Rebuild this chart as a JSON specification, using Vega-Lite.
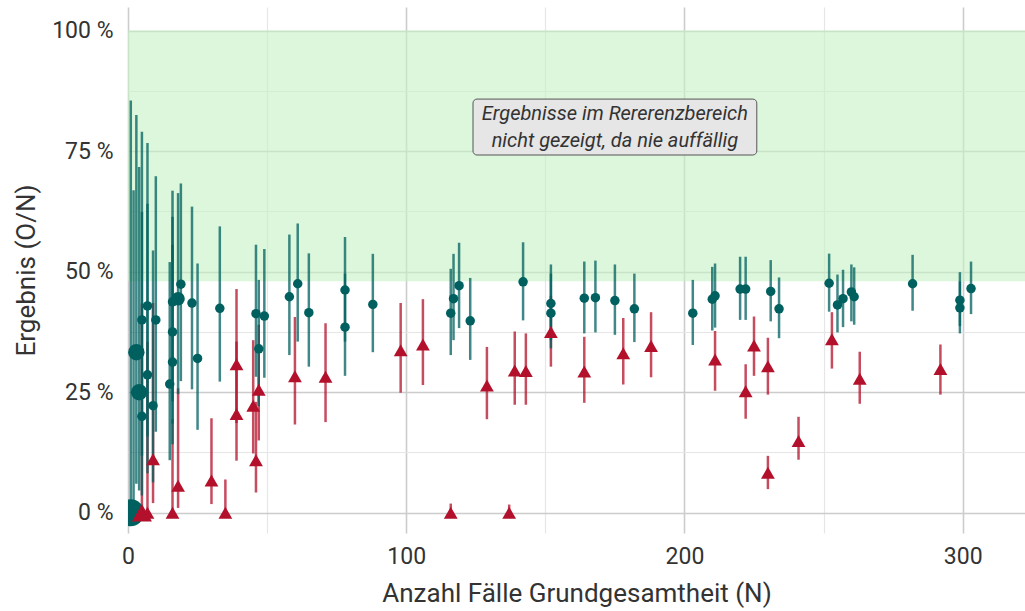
{
  "$schema": "https://vega.github.io/schema/vega-lite/v6.json",
  "width": 897,
  "height": 526,
  "autosize": {"type": "none"},
  "padding": {"left": 128, "top": 7, "right": 0, "bottom": 78},
  "config": {
    "view": {"stroke": null},
    "font": "Roboto",
    "axis": {"domain": false, "ticks": false, "labelColor": "#333333", "titleColor": "#333333", "titleFontWeight": "normal", "labelFlush": false}
  },
  "datasets": {
    "unauffaellig": [
      {"N": 1, "p": 0, "lo": 0, "hi": 0.855, "k": 8},
      {"N": 2, "p": 0, "lo": 0, "hi": 0.669, "k": 1},
      {"N": 3, "p": 0.333, "lo": 0.06, "hi": 0.825, "k": 3},
      {"N": 4, "p": 0.25, "lo": 0.046, "hi": 0.717, "k": 3},
      {"N": 5, "p": 0.4, "lo": 0.118, "hi": 0.79, "k": 1},
      {"N": 5, "p": 0.2, "lo": 0.036, "hi": 0.624, "k": 1},
      {"N": 7, "p": 0.429, "lo": 0.158, "hi": 0.767, "k": 1},
      {"N": 7, "p": 0.286, "lo": 0.082, "hi": 0.641, "k": 1},
      {"N": 9, "p": 0.222, "lo": 0.063, "hi": 0.544, "k": 1},
      {"N": 10, "p": 0.4, "lo": 0.168, "hi": 0.698, "k": 1},
      {"N": 15, "p": 0.267, "lo": 0.109, "hi": 0.52, "k": 1},
      {"N": 16, "p": 0.375, "lo": 0.185, "hi": 0.614, "k": 1},
      {"N": 16, "p": 0.3125, "lo": 0.142, "hi": 0.556, "k": 1},
      {"N": 16, "p": 0.4375, "lo": 0.231, "hi": 0.668, "k": 1},
      {"N": 18, "p": 0.444, "lo": 0.246, "hi": 0.663, "k": 2},
      {"N": 19, "p": 0.474, "lo": 0.273, "hi": 0.683, "k": 1},
      {"N": 23, "p": 0.435, "lo": 0.256, "hi": 0.635, "k": 1},
      {"N": 25, "p": 0.32, "lo": 0.172, "hi": 0.517, "k": 1},
      {"N": 33, "p": 0.424, "lo": 0.272, "hi": 0.594, "k": 1},
      {"N": 46, "p": 0.413, "lo": 0.282, "hi": 0.556, "k": 1},
      {"N": 47, "p": 0.34, "lo": 0.221, "hi": 0.483, "k": 1},
      {"N": 49, "p": 0.408, "lo": 0.28, "hi": 0.547, "k": 1},
      {"N": 58, "p": 0.448, "lo": 0.327, "hi": 0.577, "k": 1},
      {"N": 61, "p": 0.475, "lo": 0.355, "hi": 0.6, "k": 1},
      {"N": 65, "p": 0.415, "lo": 0.303, "hi": 0.538, "k": 1},
      {"N": 78, "p": 0.462, "lo": 0.355, "hi": 0.572, "k": 1},
      {"N": 78, "p": 0.385, "lo": 0.284, "hi": 0.496, "k": 1},
      {"N": 88, "p": 0.432, "lo": 0.333, "hi": 0.537, "k": 1},
      {"N": 116, "p": 0.414, "lo": 0.327, "hi": 0.506, "k": 1},
      {"N": 117, "p": 0.444, "lo": 0.358, "hi": 0.537, "k": 1},
      {"N": 119, "p": 0.471, "lo": 0.383, "hi": 0.56, "k": 1},
      {"N": 123, "p": 0.398, "lo": 0.317, "hi": 0.487, "k": 1},
      {"N": 142, "p": 0.479, "lo": 0.399, "hi": 0.561, "k": 1},
      {"N": 152, "p": 0.434, "lo": 0.358, "hi": 0.515, "k": 1},
      {"N": 152, "p": 0.414, "lo": 0.341, "hi": 0.496, "k": 1},
      {"N": 164, "p": 0.445, "lo": 0.372, "hi": 0.521, "k": 1},
      {"N": 168, "p": 0.446, "lo": 0.374, "hi": 0.523, "k": 1},
      {"N": 175, "p": 0.44, "lo": 0.369, "hi": 0.515, "k": 1},
      {"N": 182, "p": 0.423, "lo": 0.354, "hi": 0.496, "k": 1},
      {"N": 203, "p": 0.414, "lo": 0.348, "hi": 0.483, "k": 1},
      {"N": 210, "p": 0.443, "lo": 0.378, "hi": 0.51, "k": 1},
      {"N": 211, "p": 0.45, "lo": 0.384, "hi": 0.517, "k": 1},
      {"N": 220, "p": 0.464, "lo": 0.4, "hi": 0.531, "k": 1},
      {"N": 222, "p": 0.464, "lo": 0.4, "hi": 0.531, "k": 1},
      {"N": 231, "p": 0.459, "lo": 0.397, "hi": 0.524, "k": 1},
      {"N": 234, "p": 0.423, "lo": 0.362, "hi": 0.488, "k": 1},
      {"N": 252, "p": 0.476, "lo": 0.417, "hi": 0.5375, "k": 1},
      {"N": 255, "p": 0.431, "lo": 0.374, "hi": 0.494, "k": 1},
      {"N": 257, "p": 0.444, "lo": 0.385, "hi": 0.504, "k": 1},
      {"N": 260, "p": 0.458, "lo": 0.397, "hi": 0.515, "k": 1},
      {"N": 261, "p": 0.448, "lo": 0.39, "hi": 0.509, "k": 1},
      {"N": 282, "p": 0.475, "lo": 0.419, "hi": 0.535, "k": 1},
      {"N": 299, "p": 0.441, "lo": 0.387, "hi": 0.499, "k": 1},
      {"N": 299, "p": 0.425, "lo": 0.372, "hi": 0.48, "k": 1},
      {"N": 303, "p": 0.465, "lo": 0.412, "hi": 0.521, "k": 1}
    ],
    "auffaellig": [
      {"N": 5, "p": 0, "lo": 0, "hi": 0.434, "k": 3},
      {"N": 7, "p": 0, "lo": 0, "hi": 0.354, "k": 1},
      {"N": 9, "p": 0.111, "lo": 0.02, "hi": 0.435, "k": 1},
      {"N": 16, "p": 0, "lo": 0, "hi": 0.194, "k": 1},
      {"N": 18, "p": 0.056, "lo": 0.01, "hi": 0.258, "k": 1},
      {"N": 30, "p": 0.067, "lo": 0.018, "hi": 0.196, "k": 1},
      {"N": 35, "p": 0, "lo": 0, "hi": 0.069, "k": 1},
      {"N": 39, "p": 0.308, "lo": 0.186, "hi": 0.464, "k": 1},
      {"N": 39, "p": 0.205, "lo": 0.108, "hi": 0.355, "k": 1},
      {"N": 45, "p": 0.222, "lo": 0.123, "hi": 0.358, "k": 1},
      {"N": 46, "p": 0.109, "lo": 0.042, "hi": 0.23, "k": 1},
      {"N": 47, "p": 0.255, "lo": 0.15, "hi": 0.39, "k": 1},
      {"N": 60, "p": 0.283, "lo": 0.183, "hi": 0.406, "k": 1},
      {"N": 71, "p": 0.282, "lo": 0.188, "hi": 0.393, "k": 1},
      {"N": 98, "p": 0.337, "lo": 0.249, "hi": 0.435, "k": 1},
      {"N": 106, "p": 0.349, "lo": 0.265, "hi": 0.443, "k": 1},
      {"N": 116, "p": 0, "lo": 0, "hi": 0.019, "k": 1},
      {"N": 129, "p": 0.264, "lo": 0.194, "hi": 0.344, "k": 1},
      {"N": 137, "p": 0, "lo": 0, "hi": 0.017, "k": 1},
      {"N": 139, "p": 0.295, "lo": 0.224, "hi": 0.376, "k": 1},
      {"N": 143, "p": 0.294, "lo": 0.224, "hi": 0.372, "k": 1},
      {"N": 152, "p": 0.375, "lo": 0.303, "hi": 0.45, "k": 1},
      {"N": 164, "p": 0.293, "lo": 0.228, "hi": 0.365, "k": 1},
      {"N": 178, "p": 0.331, "lo": 0.266, "hi": 0.404, "k": 1},
      {"N": 188, "p": 0.346, "lo": 0.281, "hi": 0.416, "k": 1},
      {"N": 211, "p": 0.318, "lo": 0.253, "hi": 0.377, "k": 1},
      {"N": 222, "p": 0.252, "lo": 0.195, "hi": 0.308, "k": 1},
      {"N": 225, "p": 0.347, "lo": 0.284, "hi": 0.407, "k": 1},
      {"N": 230, "p": 0.304, "lo": 0.245, "hi": 0.363, "k": 1},
      {"N": 230, "p": 0.083, "lo": 0.049, "hi": 0.118, "k": 1},
      {"N": 241, "p": 0.149, "lo": 0.11, "hi": 0.199, "k": 1},
      {"N": 253, "p": 0.36, "lo": 0.299, "hi": 0.416, "k": 1},
      {"N": 263, "p": 0.278, "lo": 0.226, "hi": 0.334, "k": 1},
      {"N": 292, "p": 0.298, "lo": 0.245, "hi": 0.349, "k": 1}
    ],
    "bereich": [{"von": 0.48, "bis": 1, "a": 0, "b": 322.4}],
    "hinweis": [
      {"text": "Ergebnisse im Rererenzbereich\nnicht gezeigt, da nie auffällig", "x1": 124, "x2": 226, "y1": 0.858, "y2": 0.742, "xm": 175, "ym": 0.8}
    ]
  },
  "resolve": {"scale": {"size": "independent"}},
  "layer": [
    {
      "data": {"name": "bereich"},
      "mark": {"type": "rect", "fill": "#c5f2c5", "fillOpacity": 0.6, "strokeWidth": 0},
      "encoding": {
        "x": {"field": "a", "type": "quantitative", "scale": {"domain": [0, 322.4], "nice": false, "zero": false},
          "axis": {"values": [0, 50, 100, 150, 200, 250, 300], "format": "d",
            "labelExpr": "datum.value % 100 === 0 ? datum.label : ''",
            "title": "Anzahl Fälle Grundgesamtheit (N)",
            "gridColor": {"condition": {"test": "datum.value % 100 === 0", "value": "#cccccc"}, "value": "#e6e6e6"},
            "gridWidth": {"condition": {"test": "datum.value % 100 === 0", "value": 1.6}, "value": 1.2},
            "labelFontSize": 23, "labelPadding": 12, "titleFontSize": 26, "titlePadding": 12}},
        "x2": {"field": "b"},
        "y": {"field": "von", "type": "quantitative", "scale": {"domain": [-0.042, 1.049], "nice": false, "zero": false},
          "axis": {"values": [0, 0.125, 0.25, 0.375, 0.5, 0.625, 0.75, 0.875, 1],
            "labelExpr": "(datum.value * 4) % 1 === 0 ? format(datum.value * 100, 'd') + ' %' : ''",
            "title": "Ergebnis (O/N)",
            "gridColor": {"condition": {"test": "(datum.value * 4) % 1 === 0", "value": "#cccccc"}, "value": "#e6e6e6"},
            "gridWidth": {"condition": {"test": "(datum.value * 4) % 1 === 0", "value": 1.6}, "value": 1.2},
            "labelFontSize": 23, "labelPadding": 15, "titleFontSize": 26, "titlePadding": 12}},
        "y2": {"field": "bis"}
      }
    },
    {
      "data": {"name": "hinweis"},
      "mark": {"type": "rect", "fill": "#e6e6e6", "stroke": "#555555", "strokeWidth": 1, "cornerRadius": 4},
      "encoding": {
        "x": {"field": "x1", "type": "quantitative"},
        "x2": {"field": "x2"},
        "y": {"field": "y1", "type": "quantitative"},
        "y2": {"field": "y2"}
      }
    },
    {
      "data": {"name": "hinweis"},
      "mark": {"type": "text", "fontSize": 20, "fontStyle": "italic", "color": "#333333", "lineBreak": "\n", "lineHeight": 27, "align": "center", "baseline": "middle", "dy": -13},
      "encoding": {
        "x": {"field": "xm", "type": "quantitative"},
        "y": {"field": "ym", "type": "quantitative"},
        "text": {"field": "text"}
      }
    },
    {
      "data": {"name": "auffaellig"},
      "mark": {"type": "rule", "color": "#b3102b", "opacity": 0.75, "strokeWidth": 2.5, "clip": true},
      "encoding": {
        "x": {"field": "N", "type": "quantitative"},
        "y": {"field": "lo", "type": "quantitative"},
        "y2": {"field": "hi"}
      }
    },
    {
      "data": {"name": "unauffaellig"},
      "mark": {"type": "rule", "color": "#00605f", "opacity": 0.75, "strokeWidth": 2.5, "clip": true},
      "encoding": {
        "x": {"field": "N", "type": "quantitative"},
        "y": {"field": "lo", "type": "quantitative"},
        "y2": {"field": "hi"}
      }
    },
    {
      "data": {"name": "unauffaellig"},
      "mark": {"type": "point", "shape": "circle", "filled": true, "color": "#00605f", "opacity": 1, "clip": true},
      "encoding": {
        "x": {"field": "N", "type": "quantitative"},
        "y": {"field": "p", "type": "quantitative"},
        "size": {"field": "k", "type": "quantitative", "scale": {"domain": [1, 8], "range": [90, 720], "zero": false}, "legend": null}
      }
    },
    {
      "data": {"name": "auffaellig"},
      "mark": {"type": "point", "shape": "triangle-up", "filled": true, "color": "#b3102b", "opacity": 1, "clip": true},
      "encoding": {
        "x": {"field": "N", "type": "quantitative"},
        "y": {"field": "p", "type": "quantitative"},
        "size": {"field": "k", "type": "quantitative", "scale": {"domain": [1, 3], "range": [190, 400], "zero": false}, "legend": null}
      }
    }
  ]
}
